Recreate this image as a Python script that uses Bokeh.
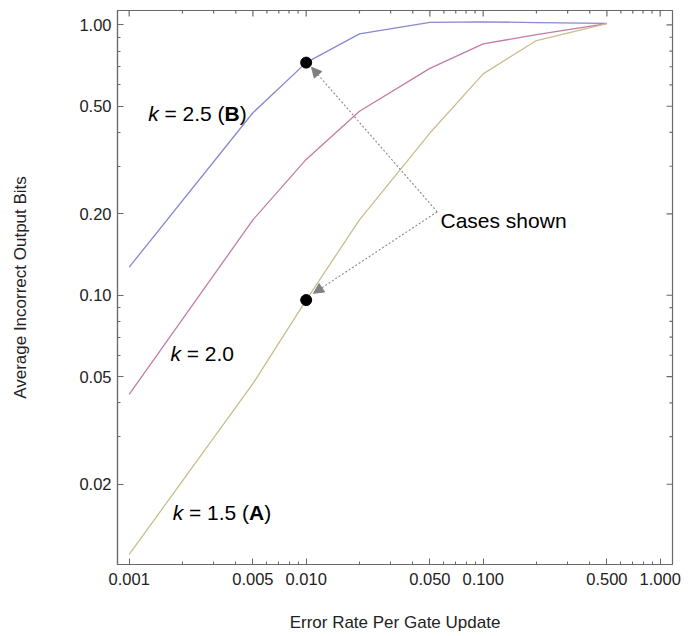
import math
from bokeh.plotting import figure
from bokeh.models import FixedTicker, PrintfTickFormatter, Label, Arrow, NormalHead
from bokeh.embed import file_html
from bokeh.resources import INLINE

# ---- data ----
error_rate = [0.001, 0.005, 0.01, 0.02, 0.05, 0.1, 0.2, 0.5]
bits_k25 = [0.127, 0.473, 0.725, 0.926, 1.022, 1.025, 1.02, 1.012]
bits_k20 = [0.043, 0.19, 0.318, 0.479, 0.69, 0.85, 0.92, 1.01]
bits_k15 = [0.0110, 0.0471, 0.096, 0.19, 0.398, 0.659, 0.875, 1.01]

case_x = [0.01, 0.01]
case_y = [0.725, 0.096]

x_major = [0.001, 0.005, 0.01, 0.05, 0.1, 0.5, 1.0]
x_minor = [0.002, 0.003, 0.004, 0.006, 0.007, 0.008, 0.009,
           0.02, 0.03, 0.04, 0.06, 0.07, 0.08, 0.09,
           0.2, 0.3, 0.4, 0.6, 0.7, 0.8, 0.9]
y_major = [0.02, 0.05, 0.1, 0.2, 0.5, 1.0]
y_minor = [0.03, 0.04, 0.06, 0.07, 0.08, 0.09, 0.3, 0.4, 0.6, 0.7, 0.8, 0.9]

X_MIN, X_MAX = 0.000859, 1.174
Y_MIN, Y_MAX = 0.0101, 1.13

FONT = "Liberation Sans"
FRAME = "#6a6a6a"

p = figure(width=695, height=636, x_axis_type="log", y_axis_type="log",
           x_range=(X_MIN, X_MAX), y_range=(Y_MIN, Y_MAX),
           output_backend="svg", toolbar_location=None,
           min_border_left=117, min_border_right=23,
           min_border_top=10, min_border_bottom=72)
p.grid.visible = False
p.outline_line_color = FRAME
p.outline_line_width = 1.2
p.background_fill_color = "white"
p.border_fill_color = "white"


def style_axis(ax, ticks, minor, fmt):
    ax.ticker = FixedTicker(ticks=ticks, minor_ticks=minor)
    ax.formatter = PrintfTickFormatter(format=fmt)
    ax.major_tick_in = 6
    ax.major_tick_out = 0
    ax.minor_tick_in = 3
    ax.minor_tick_out = 0
    ax.axis_line_color = FRAME
    ax.axis_line_width = 1.2
    ax.major_tick_line_color = FRAME
    ax.minor_tick_line_color = FRAME
    ax.major_label_text_font = FONT
    ax.major_label_text_color = "#222222"
    ax.major_label_text_font_size = "16.5px"
    ax.axis_label_text_font = FONT
    ax.axis_label_text_font_style = "normal"
    ax.axis_label_text_font_size = "17px"
    ax.axis_label_text_color = "#222222"


xa = p.xaxis[0]
style_axis(xa, x_major, x_minor, "%.3f")
xa.major_label_standoff = 8
xa.axis_label = "Error Rate Per Gate Update"
xa.axis_label_standoff = 25

ya = p.yaxis[0]
style_axis(ya, y_major, y_minor, "%.2f")
ya.major_label_standoff = 6
ya.axis_label = "Average Incorrect Output Bits"
ya.axis_label_standoff = 46

# mirrored inward ticks on the top and right frame edges (clipped to the frame)
p.scatter(x_major, [Y_MAX] * len(x_major), marker="dash", angle=math.pi / 2, size=12,
          line_color=FRAME, line_width=1.2)
p.scatter(x_minor, [Y_MAX] * len(x_minor), marker="dash", angle=math.pi / 2, size=6,
          line_color=FRAME, line_width=1.2)
p.scatter([X_MAX] * len(y_major), y_major, marker="dash", size=12,
          line_color=FRAME, line_width=1.2)
p.scatter([X_MAX] * len(y_minor), y_minor, marker="dash", size=6,
          line_color=FRAME, line_width=1.2)

# ---- curves ----
p.line(error_rate, bits_k25, line_color="#8888d2", line_width=1.3)
p.line(error_rate, bits_k20, line_color="#c57ba3", line_width=1.3)
p.line(error_rate, bits_k15, line_color="#cabd8d", line_width=1.3)

# ---- arrows ----
arrow_start = (0.055, 0.2035)
arrow_ends = [(0.01072, 0.697), (0.0110, 0.1017)]
for (ex, ey) in arrow_ends:
    p.add_layout(Arrow(end=NormalHead(size=10, fill_color="#808080", line_color="#808080"),
                       x_start=arrow_start[0], y_start=arrow_start[1], x_end=ex, y_end=ey,
                       line_color="#8a8a8a", line_width=1.1, line_dash="2 2"))

# ---- highlighted cases ----
p.scatter(case_x, case_y, size=11, fill_color="black", line_color="black")

# ---- text labels ----
FS = "21px"
em = 21.0


def add_label(x, y, parts):
    for txt, style, off in parts:
        p.add_layout(Label(x=x, y=y, x_offset=off * em, text=txt, text_font=FONT,
                           text_font_size=FS, text_font_style=style,
                           text_color="black", text_baseline="alphabetic",
                           text_align="left"))


add_label(0.00128, 0.469, [("k", "italic", 0.0), ("= 2.5 (", "normal", 0.778),
                           ("B", "bold", 3.641), (")", "normal", 4.363)])
add_label(0.00171, 0.0608, [("k", "italic", 0.0), ("= 2.0", "normal", 0.778)])
add_label(0.00176, 0.01575, [("k", "italic", 0.0), ("= 1.5 (", "normal", 0.778),
                            ("A", "bold", 3.641), (")", "normal", 4.363)])
p.add_layout(Label(x=0.0574, y=0.1884, text="Cases shown", text_font=FONT, text_font_size=FS,
                   text_color="black", text_baseline="alphabetic"))

open("out.html", "w").write(file_html(p, INLINE))
